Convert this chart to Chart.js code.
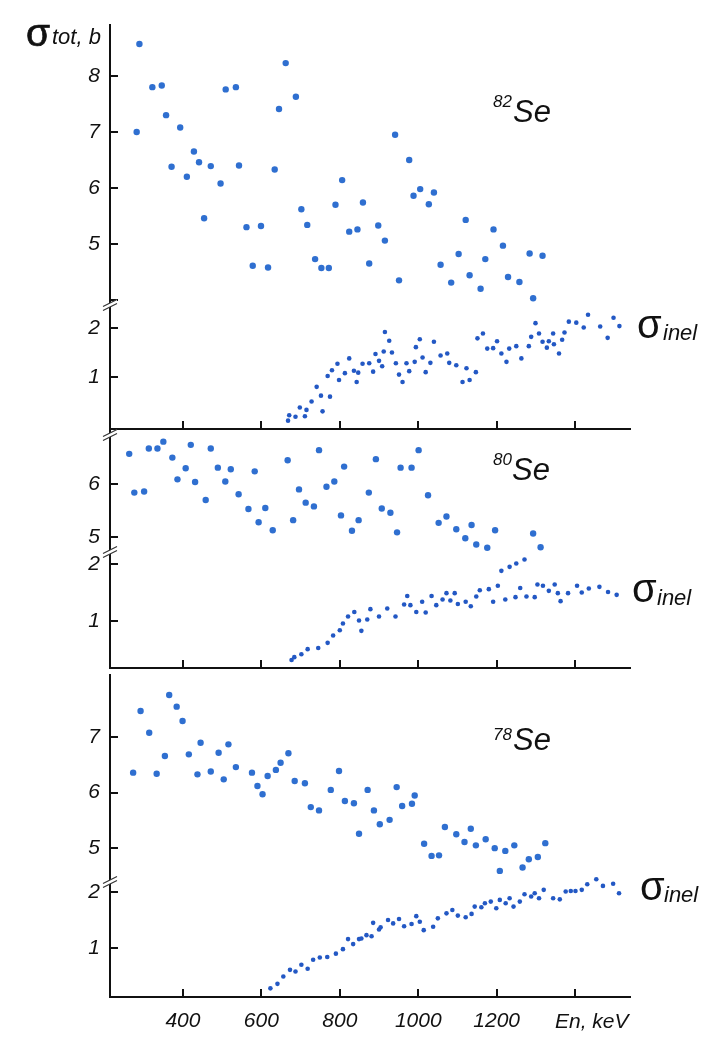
<!DOCTYPE html>
<html>
<head>
<meta charset="utf-8">
<script src="https://cdn.jsdelivr.net/npm/chart.js@4.4.1/dist/chart.umd.min.js"></script>
<style>
  body { margin: 0; background: #fff; }
  #wrap { position: relative; width: 703px; height: 1040px; overflow: hidden; background: #fff; }
  #wrap canvas { position: absolute; left: 0; }
  .txt { position: absolute; white-space: nowrap; line-height: 1; color: #111; font-family: "Liberation Sans", Arial, sans-serif; }
  .it { font-style: italic; }
  .heavy { -webkit-text-stroke: 0.7px #111; }
</style>
</head>
<body>
<div id="wrap"></div>

<script>
// energy axis (keV)
const energyTicks = [400, 600, 800, 1000, 1200, 1400];

// 82Se: total cross section (b)
const se82TotE = [282, 289, 322, 346, 357, 371, 393, 410, 428, 441, 454, 471, 496, 509, 535, 543, 562, 578, 599, 617,
  634, 645, 662, 688, 702, 717, 737, 753, 772, 789, 806, 824, 845, 859, 875, 898, 915, 941, 951, 977,
  988, 1005, 1027, 1040, 1057, 1084, 1103, 1121, 1131, 1159, 1171, 1192, 1216, 1229, 1258, 1284, 1293, 1317];
const se82Tot = [7.00, 8.57, 7.80, 7.83, 7.30, 6.38, 7.08, 6.20, 6.65, 6.46, 5.46, 6.39, 6.08, 7.76, 7.80, 6.40, 5.30, 4.61, 5.32, 4.58,
  6.33, 7.41, 8.23, 7.63, 5.62, 5.34, 4.73, 4.57, 4.57, 5.70, 6.14, 5.22, 5.26, 5.74, 4.65, 5.33, 5.06, 6.95, 4.35, 6.50,
  5.86, 5.98, 5.71, 5.92, 4.63, 4.31, 4.82, 5.43, 4.44, 4.20, 4.73, 5.26, 4.97, 4.41, 4.32, 4.83, 4.03, 4.79];

// 82Se: inelastic cross section (b)
const se82InelE = [668, 671, 687, 698, 711, 715, 728, 741, 752, 756, 769, 775, 780, 794, 798, 813, 824, 836, 843, 847,
  858, 875, 885, 891, 900, 908, 912, 915, 926, 933, 943, 951, 960, 970, 977, 991, 994, 1004, 1011, 1019,
  1031, 1040, 1057, 1074, 1079, 1097, 1113, 1123, 1131, 1147, 1151, 1165, 1176, 1191, 1201, 1212, 1225, 1232, 1250, 1263,
  1282, 1288, 1299, 1308, 1317, 1328, 1333, 1344, 1346, 1359, 1367, 1373, 1384, 1403, 1422, 1433, 1464, 1483, 1498, 1513];
const se82Inel = [0.11, 0.22, 0.19, 0.38, 0.20, 0.33, 0.50, 0.80, 0.62, 0.30, 1.02, 0.60, 1.14, 1.27, 0.94, 1.08, 1.38, 1.13, 0.90, 1.09,
  1.27, 1.28, 1.11, 1.47, 1.33, 1.22, 1.52, 1.92, 1.74, 1.50, 1.28, 1.05, 0.90, 1.28, 1.12, 1.31, 1.61, 1.77, 1.40, 1.10,
  1.29, 1.72, 1.44, 1.48, 1.29, 1.24, 0.90, 1.18, 0.94, 1.10, 1.79, 1.89, 1.58, 1.59, 1.73, 1.48, 1.31, 1.58, 1.63, 1.38,
  1.63, 1.82, 2.10, 1.89, 1.72, 1.60, 1.73, 1.89, 1.67, 1.48, 1.76, 1.91, 2.13, 2.11, 2.01, 2.27, 2.03, 1.80, 2.21, 2.04];

// 80Se: total cross section (b)
const se80TotE = [263, 276, 301, 313, 335, 350, 373, 386, 407, 420, 431, 458, 471, 489, 508, 522, 542, 567, 583, 593,
  610, 629, 667, 681, 696, 713, 734, 747, 766, 786, 803, 811, 831, 848, 874, 892, 907, 929, 946, 955,
  983, 1001, 1025, 1052, 1072, 1097, 1120, 1136, 1148, 1176, 1196, 1293, 1312];
const se80Tot = [6.57, 5.84, 5.86, 6.67, 6.67, 6.80, 6.50, 6.09, 6.30, 6.74, 6.04, 5.70, 6.67, 6.31, 6.05, 6.28, 5.81, 5.53, 6.24, 5.28,
  5.55, 5.13, 6.45, 5.32, 5.90, 5.65, 5.58, 6.64, 5.95, 6.05, 5.41, 6.33, 5.12, 5.32, 5.84, 6.47, 5.54, 5.46, 5.09, 6.31,
  6.31, 6.64, 5.79, 5.27, 5.39, 5.15, 4.98, 5.23, 4.86, 4.80, 5.13, 5.07, 4.81];

// 80Se: inelastic cross section (b)
const se80InelE = [677, 684, 702, 718, 745, 769, 783, 800, 808, 821, 837, 849, 855, 870, 878, 900, 921, 942, 964, 972,
  980, 995, 1010, 1019, 1034, 1046, 1062, 1072, 1082, 1093, 1101, 1121, 1134, 1148, 1157, 1180, 1191, 1203, 1212, 1222,
  1233, 1248, 1250, 1260, 1271, 1276, 1297, 1304, 1318, 1333, 1348, 1356, 1363, 1382, 1405, 1417, 1435, 1462, 1484, 1506];
const se80Inel = [0.32, 0.37, 0.42, 0.51, 0.53, 0.62, 0.75, 0.84, 0.96, 1.08, 1.16, 1.01, 0.83, 1.03, 1.21, 1.08, 1.22, 1.08, 1.29, 1.44,
  1.28, 1.16, 1.34, 1.15, 1.44, 1.28, 1.38, 1.49, 1.36, 1.49, 1.30, 1.34, 1.26, 1.43, 1.54, 1.56, 1.34, 1.62, 1.88, 1.38,
  1.95, 1.42, 2.01, 1.58, 2.08, 1.43, 1.42, 1.64, 1.62, 1.53, 1.64, 1.49, 1.35, 1.49, 1.62, 1.50, 1.57, 1.60, 1.51, 1.46];

// 78Se: total cross section (b)
const se78TotE = [273, 292, 314, 333, 354, 365, 384, 399, 415, 437, 445, 471, 491, 504, 516, 535, 576, 590, 603, 616,
  637, 649, 669, 685, 711, 726, 747, 777, 798, 813, 836, 849, 871, 887, 902, 927, 945, 959, 984, 991,
  1015, 1034, 1053, 1068, 1097, 1118, 1134, 1147, 1172, 1195, 1208, 1222, 1245, 1266, 1282, 1305, 1324];
const se78Tot = [6.36, 7.47, 7.08, 6.34, 6.66, 7.76, 7.55, 7.29, 6.69, 6.33, 6.90, 6.38, 6.72, 6.24, 6.87, 6.46, 6.36, 6.12, 5.97, 6.30,
  6.41, 6.54, 6.71, 6.21, 6.17, 5.74, 5.68, 6.05, 6.39, 5.85, 5.81, 5.26, 6.05, 5.68, 5.43, 5.51, 6.10, 5.76, 5.80, 5.95,
  5.08, 4.86, 4.87, 5.38, 5.25, 5.11, 5.35, 5.05, 5.16, 5.00, 4.59, 4.95, 5.05, 4.65, 4.80, 4.84, 5.09];

// 78Se: inelastic cross section (b)
const se78InelE = [623, 641, 656, 673, 687, 702, 718, 732, 749, 768, 790, 808, 821, 834, 849, 855, 868, 881, 885, 900,
  904, 923, 936, 951, 964, 983, 995, 1004, 1014, 1038, 1050, 1072, 1087, 1101, 1121, 1136, 1144, 1161, 1170, 1185,
  1199, 1208, 1223, 1233, 1243, 1259, 1271, 1288, 1297, 1308, 1320, 1344, 1361, 1376, 1389, 1401, 1417, 1431, 1454, 1471,
  1497, 1512];
const se78Inel = [0.28, 0.36, 0.49, 0.61, 0.58, 0.70, 0.63, 0.79, 0.83, 0.84, 0.90, 0.98, 1.16, 1.07, 1.16, 1.17, 1.23, 1.21, 1.45, 1.33,
  1.37, 1.50, 1.44, 1.52, 1.39, 1.43, 1.57, 1.47, 1.32, 1.38, 1.53, 1.62, 1.68, 1.58, 1.55, 1.61, 1.74, 1.73, 1.80, 1.83,
  1.71, 1.86, 1.80, 1.89, 1.74, 1.83, 1.96, 1.92, 1.98, 1.89, 2.04, 1.89, 1.87, 2.01, 2.02, 2.02, 2.04, 2.14, 2.23, 2.11,
  2.15, 1.98];

const PAD = 8;
const tickFont = { family: "'Liberation Sans', Arial, sans-serif", size: 21, style: 'italic' };

// each panel is split into an upper (total) and lower (inelastic) part with a broken y axis
const sections = [
  { e: se82TotE,  s: se82Tot,  min: 3.91, max: 8.91, ticks: [4, 5, 6, 7, 8], hide: [4], top: 25,  bottom: 305, kind: 'tot' },
  { e: se82InelE, s: se82Inel, min: -0.06, max: 2.47, ticks: [1, 2], hide: [], top: 305, bottom: 429, kind: 'inel', xLine: true, brk: 0 },
  { e: se80TotE,  s: se80Tot,  min: 4.72, max: 7.02, ticks: [5, 6], hide: [], top: 430, bottom: 552, kind: 'tot', brk: 5 },
  { e: se80InelE, s: se80Inel, min: 0.18, max: 2.21, ticks: [1, 2], hide: [], top: 552, bottom: 668, kind: 'inel', xLine: true, brk: 0 },
  { e: se78TotE,  s: se78Tot,  min: 4.39, max: 8.12, ticks: [5, 6, 7], hide: [], top: 675, bottom: 882, kind: 'tot' },
  { e: se78InelE, s: se78Inel, min: 0.125, max: 2.18, ticks: [1, 2], hide: [], top: 882, bottom: 997, kind: 'inel', xLine: true, xLabels: true, brk: 0 }
];

const dotStyle = {
  tot:  { radius: 3.2, color: '#2f6fd0' },
  inel: { radius: 2.3, color: '#2358c4' }
};

// inward tick marks and the "//" axis breaks
const axisDecor = {
  id: 'axisDecor',
  afterDraw(chart, args, opts) {
    const { ctx, chartArea: a, scales: { x, y } } = chart;
    ctx.save();
    ctx.strokeStyle = '#111';
    ctx.lineWidth = 2;
    ctx.beginPath();
    y.ticks.forEach(t => {
      const py = Math.round(y.getPixelForValue(t.value));
      ctx.moveTo(a.left, py);
      ctx.lineTo(a.left + 8, py);
    });
    if (opts.xLine) {
      x.ticks.forEach(t => {
        const px = Math.round(x.getPixelForValue(t.value));
        ctx.moveTo(px, a.bottom);
        ctx.lineTo(px, a.bottom - 8);
      });
    }
    ctx.stroke();

    if (opts.brk != null) {
      const by = a.top + opts.brk;
      const x0 = a.left - 7, x1 = a.left + 7;
      ctx.fillStyle = '#fff';
      ctx.beginPath();
      ctx.moveTo(x0, by + 1.5);
      ctx.lineTo(x1, by - 5.5);
      ctx.lineTo(x1, by - 1.5);
      ctx.lineTo(x0, by + 5.5);
      ctx.closePath();
      ctx.fill();
      ctx.lineWidth = 1.2;
      ctx.strokeStyle = '#333';
      ctx.beginPath();
      ctx.moveTo(x0, by + 1.5); ctx.lineTo(x1, by - 5.5);
      ctx.moveTo(x0, by + 5.5); ctx.lineTo(x1, by - 1.5);
      ctx.stroke();
    }
    ctx.restore();
  }
};

const wrap = document.getElementById('wrap');

sections.forEach(sec => {
  const bottomSpace = sec.xLabels ? 1040 - sec.bottom : PAD;
  const cv = document.createElement('canvas');
  cv.width = 703;
  cv.height = (sec.bottom - sec.top) + PAD + bottomSpace;
  cv.style.top = (sec.top - PAD) + 'px';
  wrap.appendChild(cv);

  const st = dotStyle[sec.kind];
  new Chart(cv, {
    type: 'scatter',
    data: {
      datasets: [{
        data: sec.e.map((e, i) => ({ x: e, y: sec.s[i] })),
        pointRadius: st.radius,
        pointBackgroundColor: st.color,
        pointBorderWidth: 0,
        clip: false
      }]
    },
    options: {
      responsive: false,
      animation: false,
      events: [],
      layout: { padding: { top: PAD, right: 73, left: 0, bottom: 0 } },
      plugins: {
        legend: { display: false },
        tooltip: { enabled: false },
        axisDecor: { xLine: !!sec.xLine, brk: sec.brk }
      },
      scales: {
        x: {
          type: 'linear',
          min: 214,
          max: 1540,
          grid: { display: false, drawTicks: false },
          border: { display: !!sec.xLine, color: '#111', width: 2 },
          ticks: {
            display: !!sec.xLabels,
            padding: 12,
            font: tickFont,
            color: '#111',
            maxRotation: 0,
            autoSkip: false,
            callback: v => (v <= 1200 ? String(v) : '')
          },
          afterBuildTicks: s => { s.ticks = energyTicks.map(v => ({ value: v })); },
          afterFit: s => { s.height = bottomSpace; s.paddingLeft = 0; s.paddingRight = 0; }
        },
        y: {
          type: 'linear',
          min: sec.min,
          max: sec.max,
          grid: { display: false, drawTicks: false },
          border: { display: true, color: '#111', width: 2 },
          ticks: {
            padding: 10,
            font: tickFont,
            color: '#111',
            autoSkip: false,
            callback: v => (sec.hide.includes(v) ? '' : String(v))
          },
          afterBuildTicks: s => { s.ticks = sec.ticks.map(v => ({ value: v })); },
          afterFit: s => { s.width = 110; s.paddingTop = 0; s.paddingBottom = 0; }
        }
      }
    },
    plugins: [axisDecor]
  });
});

// axis titles and isotope labels, placed by baseline
const labels = [
  { t: 'σ', x: 26, base: 46, size: 39, heavy: true },
  { t: 'tot, b', x: 52, base: 45, size: 22, it: true },
  { t: '82', x: 493, base: 107, size: 17, it: true },
  { t: 'Se', x: 513, base: 122, size: 31, it: true },
  { t: 'σ', x: 637, base: 338, size: 40 },
  { t: 'inel', x: 663, base: 341, size: 22, it: true },
  { t: '80', x: 493, base: 465, size: 17, it: true },
  { t: 'Se', x: 512, base: 480, size: 31, it: true },
  { t: 'σ', x: 632, base: 602, size: 40 },
  { t: 'inel', x: 657, base: 606, size: 22, it: true },
  { t: '78', x: 493, base: 740, size: 17, it: true },
  { t: 'Se', x: 513, base: 750, size: 31, it: true },
  { t: 'σ', x: 640, base: 900, size: 40 },
  { t: 'inel', x: 664, base: 903, size: 22, it: true },
  { t: 'En, keV', x: 555, base: 1028, size: 21, it: true }
];

labels.forEach(l => {
  const d = document.createElement('div');
  d.className = 'txt' + (l.it ? ' it' : '') + (l.heavy ? ' heavy' : '');
  d.textContent = l.t;
  d.style.fontSize = l.size + 'px';
  d.style.left = l.x + 'px';
  d.style.top = (l.base - 0.8465 * l.size) + 'px';
  wrap.appendChild(d);
});
</script>
</body>
</html>
